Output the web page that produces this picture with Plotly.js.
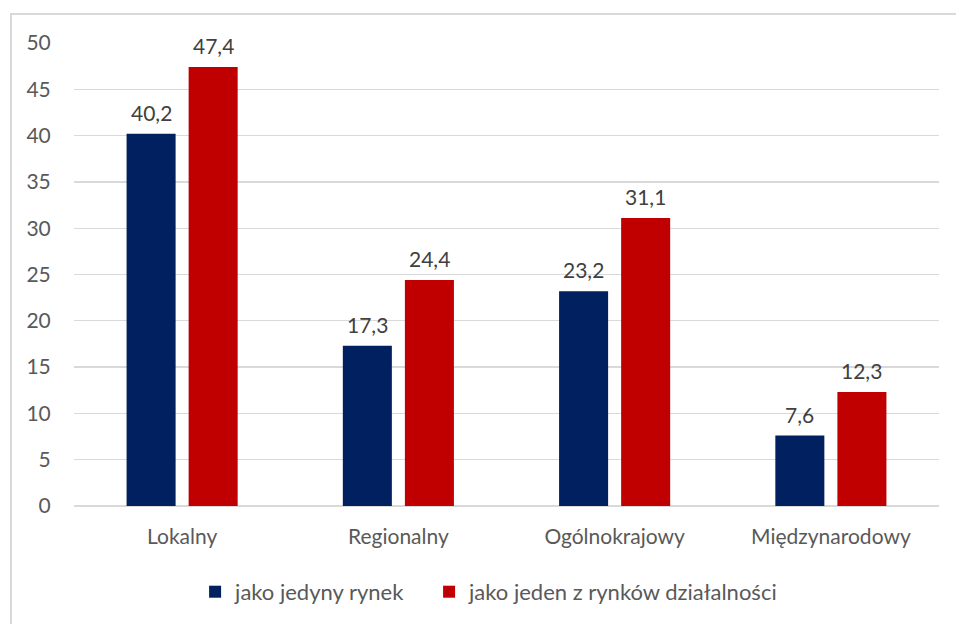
<!DOCTYPE html>
<html>
<head>
<meta charset="utf-8">
<script src="https://cdn.plot.ly/plotly-3.0.1.min.js"></script>
<style>
  html, body { margin: 0; padding: 0; background: #fff; }
  #wrap { position: relative; width: 957px; height: 624px; overflow: hidden; }
  #frame { position: absolute; left: 10px; top: 13px; width: 946px; height: 620px;
           border-left: 2px solid #d9d9d9; border-top: 2px solid #d9d9d9; box-sizing: border-box; }
  #chart { position: absolute; left: 0; top: 0; width: 957px; height: 624px; }
</style>
</head>
<body>
<div id="wrap">
  <div id="frame"></div>
  <div id="chart"></div>
</div>
<script>
const categories = ["Lokalny", "Regionalny", "Ogólnokrajowy", "Międzynarodowy"];
const seriesNames = ["jako jedyny rynek", "jako jeden z rynków działalności"];
const onlyMarket = [40.2, 17.3, 23.2, 7.6];
const oneOfMarkets = [47.4, 24.4, 31.1, 12.3];
const yTicks = [0, 5, 10, 15, 20, 25, 30, 35, 40, 45, 50];
const seriesColors = ["#002060", "#C00000"];

const fam = "Lato, 'Open Sans', sans-serif";
const grey = "#595959";
const seriesValues = [onlyMarket, oneOfMarkets];
const legendIds = ["legend", "legend2"];

const traces = seriesValues.map((vals, i) => ({
  type: "bar", name: seriesNames[i], x: categories, y: vals,
  marker: { color: seriesColors[i] }, hoverinfo: "none", legend: legendIds[i]
}));

// data labels, one per bar, shifted to the bar centre within each group
const annotations = [];
seriesValues.forEach((vals, i) => {
  vals.forEach((v, j) => {
    annotations.push({
      x: categories[j], y: v, xref: "x", yref: "y",
      text: v.toFixed(1).replace(".", ","), showarrow: false,
      xshift: i === 0 ? -31 : 31, yanchor: "bottom", yshift: 7,
      font: { family: fam, size: 21, color: "#404040" }
    });
  });
});

const legendBase = { orientation: "h", xanchor: "left", y: -0.183, yanchor: "middle",
                     font: { family: fam, size: 22, color: grey } };

const layout = {
  width: 957, height: 624,
  paper_bgcolor: "rgba(0,0,0,0)", plot_bgcolor: "rgba(0,0,0,0)",
  margin: { l: 74, r: 18, t: 43, b: 117 },
  font: { family: fam, size: 21, color: grey },
  barmode: "group", bargap: 0.426, bargroupgap: 0.21,
  showlegend: true,
  legend: Object.assign({}, legendBase, { x: 0.14 }),
  legend2: Object.assign({}, legendBase, { x: 0.4105 }),
  annotations: annotations,
  xaxis: { type: "category", showgrid: false, zeroline: false, showline: false,
           ticks: "outside", tickcolor: "rgba(0,0,0,0)", ticklen: 12,
           tickfont: { family: fam, size: 21, color: grey } },
  yaxis: { range: [0, 50], tickvals: yTicks, showgrid: true, gridcolor: "#d9d9d9", gridwidth: 1.3,
           zeroline: true, zerolinecolor: "#d9d9d9", zerolinewidth: 1.3, showline: false,
           ticks: "outside", tickcolor: "rgba(0,0,0,0)", ticklen: 18,
           tickfont: { family: fam, size: 21, color: grey } }
};

Plotly.newPlot("chart", traces, layout, { displayModeBar: false, staticPlot: true });
</script>
</body>
</html>
